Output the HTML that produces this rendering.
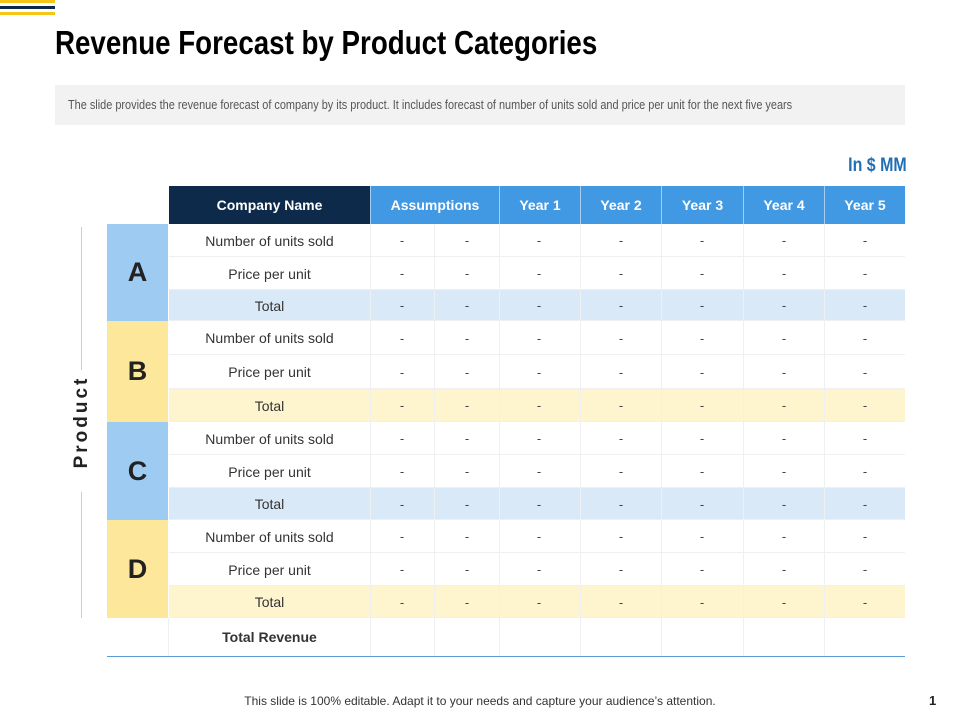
<!DOCTYPE html>
<html><head><meta charset="utf-8">
<style>
body{margin:0;width:960px;height:720px;position:relative;background:#fff;font-family:"Liberation Sans",sans-serif;overflow:hidden}
.a{position:absolute}
.c{position:absolute;display:flex;align-items:center;justify-content:center;box-sizing:border-box}
.n{font-stretch:condensed}
</style></head><body>
<div class="a" style="left:0;top:0;width:55px;height:3px;background:#f5c518"></div>
<div class="a" style="left:0;top:6px;width:55px;height:3px;background:#0d2a4a"></div>
<div class="a" style="left:0;top:12px;width:55px;height:3px;background:#f5c518"></div>
<div class="a" style="left:55px;top:24px;font-size:33px;font-weight:bold;color:#000;transform:scaleX(0.84);transform-origin:left;white-space:nowrap">Revenue Forecast by Product Categories</div>
<div class="a" style="left:55px;top:85px;width:850px;height:40px;background:#f2f2f2"></div>
<div class="a" style="left:68px;top:97px;font-size:13px;color:#555;transform:scaleX(0.84);transform-origin:left;white-space:nowrap">The slide provides the revenue  forecast of company by its product. It includes forecast of number of units sold and price per unit for the next five years</div>
<div class="a" style="right:53px;top:155px;font-size:19px;font-weight:bold;color:#1f6fb5;transform:scaleX(0.84);transform-origin:right;white-space:nowrap">In $ MM</div>
<div class="a" style="left:81px;top:227px;width:1px;height:143px;background:#ccc"></div>
<div class="a" style="left:81px;top:492px;width:1px;height:126px;background:#ccc"></div>
<div class="a" style="left:82px;top:422px;font-size:19px;font-weight:bold;letter-spacing:3px;color:#222;transform:translate(-50%,-50%) rotate(-90deg);white-space:nowrap">Product</div>
<div id="tbl"></div>
<div class="a" style="left:0;width:960px;top:694px;text-align:center;font-size:12px;color:#333">This slide is 100% editable. Adapt it to your needs and capture your audience’s attention.</div>
<div class="a" style="left:929px;top:693px;font-size:13px;font-weight:bold;color:#222">1</div>
<script>
const headers=["Company Name","Assumptions","Year 1","Year 2","Year 3","Year 4","Year 5"];
const products=["A","B","C","D"];
const rowLabels=["Number of units sold","Price per unit","Total"];
const cols=[169,370,499,580,661,743,824,905];
const dashX=[402,467,539,621,702,784,865];
const groupTops=[[224,257,290,321],[321,355,389,422],[422,455,488,520],[520,553,586,618]];
const root=document.getElementById('tbl');
function mk(cls,style,text){const d=document.createElement('div');d.className=cls;d.style.cssText=style;if(text!=null)d.textContent=text;root.appendChild(d);return d;}
for(let i=0;i<headers.length;i++){
 const h=mk('c n',`left:${cols[i]}px;top:186px;width:${cols[i+1]-cols[i]}px;height:38px;background:${i==0?'#0d2a4a':'#4199e3'};color:#fff;font-weight:bold;font-size:14px;border-left:${i>0?'1px solid #a8cdf0':'0'}`,headers[i]);
 
 
}
products.forEach((p,g)=>{
 const t=groupTops[g];const blue=g%2==0;
 const lc=mk('c',`left:107px;top:${t[0]}px;width:61px;height:${t[3]-t[0]}px;background:${blue?'#9dcbf1':'#fde79b'};font-size:27px;font-weight:bold;color:#222`,p);
 
 
 for(let r=0;r<3;r++){
  const y=t[r],h=t[r+1]-t[r];
  const bg=r==2?(blue?'#dae9f8':'#fef4cd'):'#fff';
  const row=mk('a',`left:169px;top:${y}px;width:736px;height:${h}px;background:${bg};border-bottom:1px solid #eef0f2;box-sizing:border-box`);
  
  
  const lb=mk('c',`left:169px;top:${y}px;width:201px;height:${h}px;font-size:14px;color:#333`,rowLabels[r]);
  
  
  dashX.forEach(x=>{
   const d=mk('c',`left:${x-20}px;top:${y}px;width:40px;height:${h}px;font-size:13px;color:#444`,'-');
   
   
  });
 }
});
const tr=mk('c',`left:169px;top:618px;width:201px;height:38px;font-size:14px;font-weight:bold;color:#333`,'Total Revenue');


[370,434,499,580,661,743,824].forEach(x=>{
 const v=mk('a',`left:${x}px;top:224px;width:1px;height:432px;background:#eef0f2`);
 
 
});
const v0=mk('a',`left:168px;top:618px;width:1px;height:38px;background:#eef0f2`);


const bl=mk('a',`left:107px;top:656px;width:798px;height:1px;background:#5b9bd5`);


</script>
</body></html>
